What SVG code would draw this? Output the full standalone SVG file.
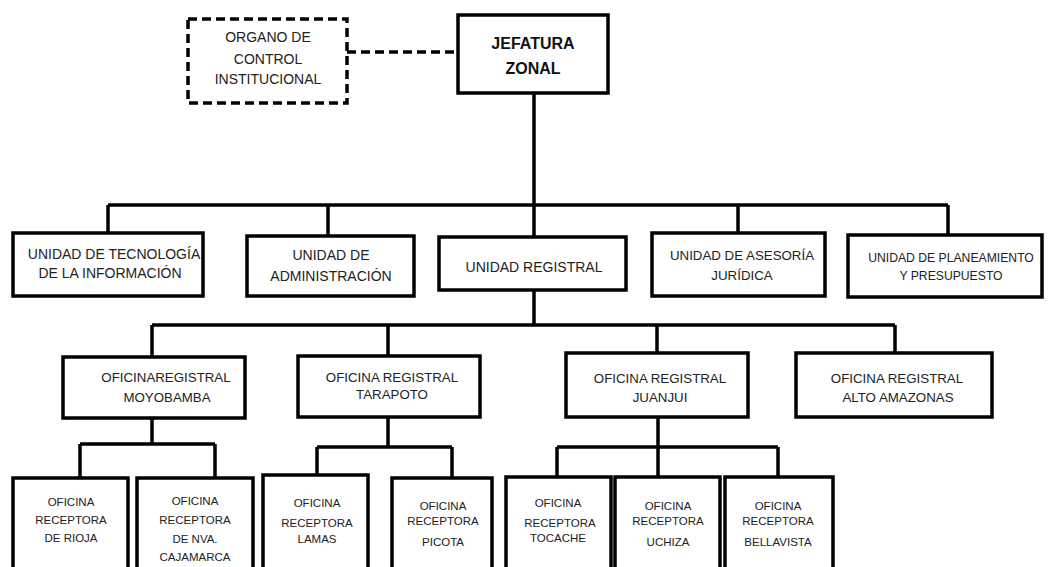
<svg xmlns="http://www.w3.org/2000/svg" width="1056" height="567" viewBox="0 0 1056 567">
<style>
.bx{fill:#fff;stroke:#000;stroke-width:3.5}
.dbx{fill:#fff;stroke:#000;stroke-width:3.5;stroke-dasharray:9 5}
.ln{fill:none;stroke:#000;stroke-width:3.5}
.dln{fill:none;stroke:#000;stroke-width:3.5;stroke-dasharray:9 5}
text{font-family:"Liberation Sans",Arial,sans-serif;fill:#222;text-anchor:middle}
.t14{font-size:14px}
.t13{font-size:13.3px}
.t12{font-size:12.2px}
.t11{font-size:11.5px}
.tb{font-size:16px;font-weight:bold;fill:#111}
</style>
<rect width="1056" height="567" fill="#fff"/>
<g id="connectors">
<path class="dln" d="M347 52H458"/>
<path class="ln" d="M534 93V237"/>
<path class="ln" d="M108 205H948M108 205V233M328 205V236M738 205V233M948 205V235"/>
<path class="ln" d="M534 290V325M152 325H895M152 325V357M388 325V356M657 325V353M895 325V353"/>
<path class="ln" d="M152 418V444M80 444H215M80 444V478M215 444V477"/>
<path class="ln" d="M388 417V447M317 447H452M317 447V475M452 447V478"/>
<path class="ln" d="M658 417V447M557 447H778M557 447V477M658 447V477M778 447V477"/>
</g>
<g id="oci"><rect class="dbx" x="188" y="19" width="159" height="84"/>
<text class="t14" x="268" y="42">ORGANO DE</text><text class="t14" x="268" y="64">CONTROL</text><text class="t14" x="268" y="84">INSTITUCIONAL</text></g>
<g id="jefatura"><rect class="bx" x="458" y="15" width="150" height="78"/>
<text class="tb" x="533" y="49">JEFATURA</text><text class="tb" x="533" y="74">ZONAL</text></g>
<g id="u-tec"><rect class="bx" x="13" y="233" width="190" height="63"/>
<text class="t14" x="114" y="259">UNIDAD DE TECNOLOGÍA</text><text class="t14" x="110" y="278">DE LA INFORMACIÓN</text></g>
<g id="u-adm"><rect class="bx" x="247" y="236" width="167" height="60"/>
<text class="t14" x="331" y="260">UNIDAD DE</text><text class="t14" x="331" y="281">ADMINISTRACIÓN</text></g>
<g id="u-reg"><rect class="bx" x="439" y="237" width="187" height="53"/>
<text class="t14" x="534" y="272">UNIDAD REGISTRAL</text></g>
<g id="u-jur"><rect class="bx" x="652" y="233" width="173" height="63"/>
<text class="t13" x="742" y="260">UNIDAD DE ASESORÍA</text><text class="t13" x="742" y="280">JURÍDICA</text></g>
<g id="u-pla"><rect class="bx" x="848" y="235" width="194" height="62"/>
<text class="t12" x="951" y="262">UNIDAD DE PLANEAMIENTO</text><text class="t12" x="951" y="280">Y PRESUPUESTO</text></g>
<g id="o-moy"><rect class="bx" x="63" y="357" width="182" height="61"/>
<text class="t13" x="166" y="382">OFICINAREGISTRAL</text><text class="t13" x="167" y="402">MOYOBAMBA</text></g>
<g id="o-tar"><rect class="bx" x="298" y="356" width="182" height="61"/>
<text class="t13" x="392" y="382">OFICINA REGISTRAL</text><text class="t13" x="392" y="399">TARAPOTO</text></g>
<g id="o-jua"><rect class="bx" x="566" y="353" width="182" height="64"/>
<text class="t13" x="660" y="383">OFICINA REGISTRAL</text><text class="t13" x="660" y="402">JUANJUI</text></g>
<g id="o-alt"><rect class="bx" x="796" y="353" width="196" height="64"/>
<text class="t13" x="897" y="383">OFICINA REGISTRAL</text><text class="t13" x="898" y="402">ALTO AMAZONAS</text></g>
<g id="r-rio"><rect class="bx" x="13" y="478" width="115" height="102"/>
<text class="t11" x="71" y="506">OFICINA</text><text class="t11" x="71" y="524">RECEPTORA</text><text class="t11" x="71" y="542">DE RIOJA</text></g>
<g id="r-caj"><rect class="bx" x="137" y="478" width="116" height="102"/>
<text class="t11" x="195" y="505">OFICINA</text><text class="t11" x="195" y="524">RECEPTORA</text><text class="t11" x="195" y="543">DE NVA.</text><text class="t11" x="195" y="561">CAJAMARCA</text></g>
<g id="r-lam"><rect class="bx" x="263" y="475" width="105" height="105"/>
<text class="t11" x="317" y="507">OFICINA</text><text class="t11" x="317" y="527">RECEPTORA</text><text class="t11" x="317" y="543">LAMAS</text></g>
<g id="r-pic"><rect class="bx" x="392" y="478" width="100" height="102"/>
<text class="t11" x="443" y="510">OFICINA</text><text class="t11" x="443" y="525">RECEPTORA</text><text class="t11" x="443" y="546">PICOTA</text></g>
<g id="r-toc"><rect class="bx" x="506" y="477" width="105" height="103"/>
<text class="t11" x="558" y="507">OFICINA</text><text class="t11" x="560" y="527">RECEPTORA</text><text class="t11" x="558" y="542">TOCACHE</text></g>
<g id="r-uch"><rect class="bx" x="615" y="477" width="105" height="103"/>
<text class="t11" x="668" y="510">OFICINA</text><text class="t11" x="668" y="525">RECEPTORA</text><text class="t11" x="668" y="546">UCHIZA</text></g>
<g id="r-bel"><rect class="bx" x="725" y="477" width="108" height="103"/>
<text class="t11" x="778" y="510">OFICINA</text><text class="t11" x="778" y="525">RECEPTORA</text><text class="t11" x="778" y="546">BELLAVISTA</text></g>
</svg>
